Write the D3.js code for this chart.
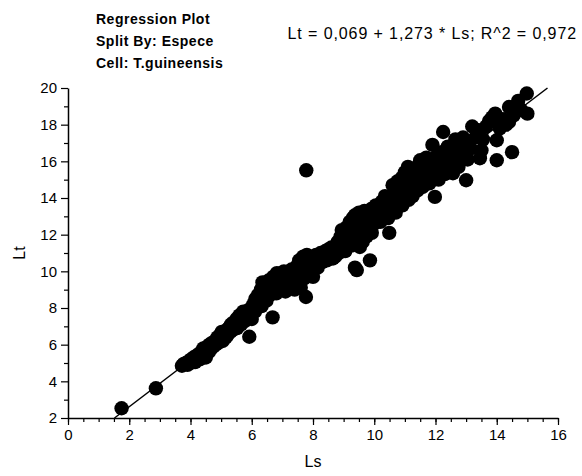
<!DOCTYPE html>
<html>
<head>
<meta charset="utf-8">
<script src="https://cdn.jsdelivr.net/npm/d3@7"></script>
<style>
  body { margin: 0; background: #fff; }
  text { font-family: "Liberation Sans", Arial, sans-serif; fill: #000; }
</style>
</head>
<body>
<div id="chart"></div>
<script>
// Ls / Lt pairs
const lsValues = [
  1.75, 2.87,
  3.72, 3.78, 3.85, 3.9, 3.95, 4.0, 4.02, 4.08, 4.1, 4.15, 4.2, 4.22, 4.28, 4.3, 4.35, 4.38, 4.42, 4.45, 4.5, 4.5,
  4.55, 4.6, 4.62, 4.68, 4.7, 4.75, 4.8, 4.82, 4.88, 4.9, 4.95, 5.0, 5.02, 5.05, 5.1, 5.15, 5.18, 5.2,
  5.25, 5.3, 5.32, 5.38, 5.4, 5.45, 5.5, 5.52, 5.58, 5.6, 5.65, 5.7, 5.72, 5.78, 5.8, 5.85, 5.92, 5.9, 5.95, 6.0, 6.0,
  6.05, 6.1, 6.12, 6.18, 6.2, 6.25, 6.3, 6.32, 6.35, 6.4, 6.42, 6.48, 6.5, 6.55, 6.58, 6.62, 6.68, 6.65, 6.7, 6.75, 6.8, 6.82, 6.88,
  6.92, 6.95, 7.0, 7.05, 7.1, 7.12, 7.18, 7.2, 7.25, 7.3, 7.35, 7.4, 7.42, 7.48, 7.5, 7.55, 7.6, 7.62, 7.68, 7.7, 7.77, 7.75, 7.8, 7.85, 7.9, 7.95, 8.0, 8.0,
  8.05, 8.1, 8.15, 8.2, 8.25, 8.3, 8.35, 8.4, 8.45, 8.5, 8.55, 8.6, 8.65, 8.72, 8.75, 8.8, 8.85, 8.9,
  8.94, 8.95, 9.0, 9.05, 9.1, 9.2, 9.25, 9.3, 9.32, 9.37, 9.37, 9.43, 9.4, 9.45, 9.5, 9.53, 9.55, 9.6, 9.62, 9.68, 9.7, 9.75, 9.8, 9.86, 9.85, 9.9, 9.92,
  9.98, 10.0, 10.05, 10.08, 10.1, 10.15, 10.2, 10.25, 10.3, 10.35, 10.4, 10.45, 10.49, 10.5, 10.55, 10.6, 10.62, 10.68, 10.7, 10.75, 10.8,
  10.85, 10.9, 10.92, 10.98, 11.0, 11.05, 11.1, 11.12, 11.18, 11.2, 11.25, 11.3, 11.35, 11.4, 11.45, 11.5, 11.52, 11.58, 11.6, 11.65, 11.7, 11.75, 11.8, 11.85, 11.9, 11.98,
  12.0, 12.05, 12.1, 12.15, 12.25, 12.2, 12.3, 12.37, 12.4, 12.45, 12.5, 12.57, 12.6, 12.65, 12.7, 12.75, 12.85, 12.9, 13.0, 13.0, 13.05,
  13.15, 13.2, 13.3, 13.4, 13.45, 13.5, 13.55, 13.65, 13.75, 13.85, 13.95, 14.0, 14.0, 14.1, 14.2, 14.3, 14.4, 14.4, 14.5, 14.55, 14.7, 14.8, 14.98, 15.0,
  7.78
];
const ltValues = [
  2.53, 3.62,
  4.85, 4.95, 5.0, 4.9, 5.1, 5.0, 5.2, 5.15, 5.3, 5.05, 5.4, 5.25, 5.5, 5.2, 5.6, 5.35, 5.8, 5.5, 5.7, 5.3,
  5.9, 5.6, 6.0, 5.8, 6.1, 5.9, 6.2, 6.0, 6.4, 6.1, 6.5, 6.3, 6.7, 6.2, 6.6, 6.4, 6.8, 6.5,
  6.9, 6.7, 7.1, 6.8, 7.2, 7.0, 7.4, 6.9, 7.3, 7.6, 7.1, 7.5, 7.8, 7.3, 7.7, 7.5, 6.43, 7.9, 7.6, 8.0, 7.4,
  8.2, 7.8, 8.5, 8.0, 8.7, 8.3, 9.0, 8.1, 9.4, 8.6, 9.2, 8.4, 9.0, 9.5, 8.7, 9.2, 7.49, 8.9, 9.7, 9.3, 8.8, 9.9, 9.5,
  9.1, 9.8, 9.4, 10.0, 8.9, 9.6, 9.9, 9.2, 9.7, 10.1, 9.4, 9.0, 9.8, 10.3, 9.5, 10.6, 9.1, 10.0, 10.8, 9.6, 8.6, 10.2, 10.9, 9.8, 10.4, 10.0, 10.7, 9.7,
  10.4, 10.9, 10.2, 10.7, 11.0, 10.5, 10.8, 11.1, 10.6, 11.2, 10.9, 11.3, 10.7, 10.8, 11.2, 11.6, 11.0, 11.9,
  12.25, 11.4, 12.0, 11.1, 12.4, 12.7, 11.4, 12.9, 12.3, 13.06, 10.2, 10.07, 11.8, 12.6, 13.2, 11.33, 12.2, 12.9, 11.6, 13.3, 12.4, 11.9, 13.0, 10.6, 12.6, 13.4, 12.1,
  13.1, 12.6, 13.6, 13.5, 12.9, 13.3, 12.7, 13.8, 13.2, 14.1, 13.5, 12.9, 12.1, 14.0, 13.4, 14.7, 13.8, 14.3, 13.2, 14.9, 13.9,
  14.5, 15.1, 13.6, 14.2, 15.4, 14.8, 15.7, 13.9, 14.6, 15.2, 14.1, 15.6, 14.9, 14.4, 15.8, 16.06, 15.1, 14.6, 15.5, 14.9, 16.2, 15.3, 14.8, 15.8, 16.9, 14.06,
  15.4, 16.3, 15.0, 15.9, 17.6, 16.5, 15.3, 15.9, 16.8, 15.6, 16.2, 15.35, 16.8, 17.2, 16.25, 15.7, 16.6, 17.3, 17.06, 14.97, 16.1,
  16.7, 17.9, 17.3, 17.7, 16.17, 16.6, 17.2, 17.9, 18.2, 18.4, 18.6, 17.15, 16.06, 17.8, 18.3, 18.0, 18.15, 18.96, 16.5, 18.5, 19.3, 18.8, 19.7, 18.6,
  15.51
];
const intercept = 0.069;
const slope = 1.273;
const xTicks = [0, 2, 4, 6, 8, 10, 12, 14, 16];
const yTicks = [2, 4, 6, 8, 10, 12, 14, 16, 18, 20];
const titleLines = ["Regression Plot", "Split By: Espece", "Cell: T.guineensis"];
const equation = "Lt = 0,069 + 1,273 * Ls; R^2 = 0,972";

const width = 582, height = 476;
const margin = { top: 88, right: 24, bottom: 58, left: 68 };

const svg = d3.select("#chart").append("svg")
  .attr("width", width)
  .attr("height", height);

const x = d3.scaleLinear().domain([0, 16]).range([margin.left, width - margin.right]);
const y = d3.scaleLinear().domain([2, 20]).range([height - margin.bottom, margin.top]);

// points
const points = lsValues.map((d, i) => ({ ls: d, lt: ltValues[i] }));
svg.append("g")
  .selectAll("circle")
  .data(points)
  .join("circle")
  .attr("cx", d => x(d.ls))
  .attr("cy", d => y(d.lt))
  .attr("r", 7.2)
  .attr("fill", "#000");

// regression line, clipped to the y range
const x0 = (2 - intercept) / slope;
const x1 = (20 - intercept) / slope;
svg.append("line")
  .attr("x1", x(x0)).attr("y1", y(intercept + slope * x0))
  .attr("x2", x(x1)).attr("y2", y(intercept + slope * x1))
  .attr("stroke", "#000")
  .attr("stroke-width", 1.5);

// x axis
const xAxis = svg.append("g").attr("transform", `translate(0,${y(2)})`);
xAxis.call(d3.axisBottom(x).tickValues(d3.range(0, 16.01, 0.5)).tickSize(4).tickFormat(""));
xAxis.call(g => g.select(".domain").remove());
xAxis.append("g")
  .call(d3.axisBottom(x).tickValues(xTicks).tickSize(7).tickSizeOuter(0).tickPadding(4))
  .call(g => g.select(".domain").attr("stroke-width", 1.5))
  .call(g => g.selectAll("text").attr("font-size", 15).attr("fill", "#000"));

// y axis
const yAxis = svg.append("g").attr("transform", `translate(${x(0)},0)`);
yAxis.call(d3.axisLeft(y).tickValues(d3.range(3, 20, 2)).tickSize(4).tickFormat(""));
yAxis.call(g => g.select(".domain").remove());
yAxis.append("g")
  .call(d3.axisLeft(y).tickValues(yTicks).tickSize(7).tickSizeOuter(0).tickPadding(4))
  .call(g => g.select(".domain").attr("stroke-width", 1.5))
  .call(g => g.selectAll("text").attr("font-size", 15).attr("fill", "#000"));

svg.selectAll(".tick line").attr("stroke", "#000").attr("stroke-width", 1.2);

// axis titles
svg.append("text")
  .attr("x", x(8)).attr("y", 467)
  .attr("text-anchor", "middle")
  .attr("font-size", 16)
  .text("Ls");

svg.append("text")
  .attr("transform", `translate(25,${y(11)}) rotate(-90)`)
  .attr("text-anchor", "middle")
  .attr("font-size", 16)
  .text("Lt");

// header text
svg.append("g")
  .selectAll("text")
  .data(titleLines)
  .join("text")
  .attr("x", 96)
  .attr("y", (d, i) => 24 + i * 22)
  .attr("font-size", 14)
  .attr("font-weight", "bold")
  .attr("letter-spacing", 0.5)
  .text(d => d);

svg.append("text")
  .attr("x", 577).attr("y", 39)
  .attr("text-anchor", "end")
  .attr("font-size", 16)
  .attr("letter-spacing", 0.9)
  .text(equation);
</script>
</body>
</html>
